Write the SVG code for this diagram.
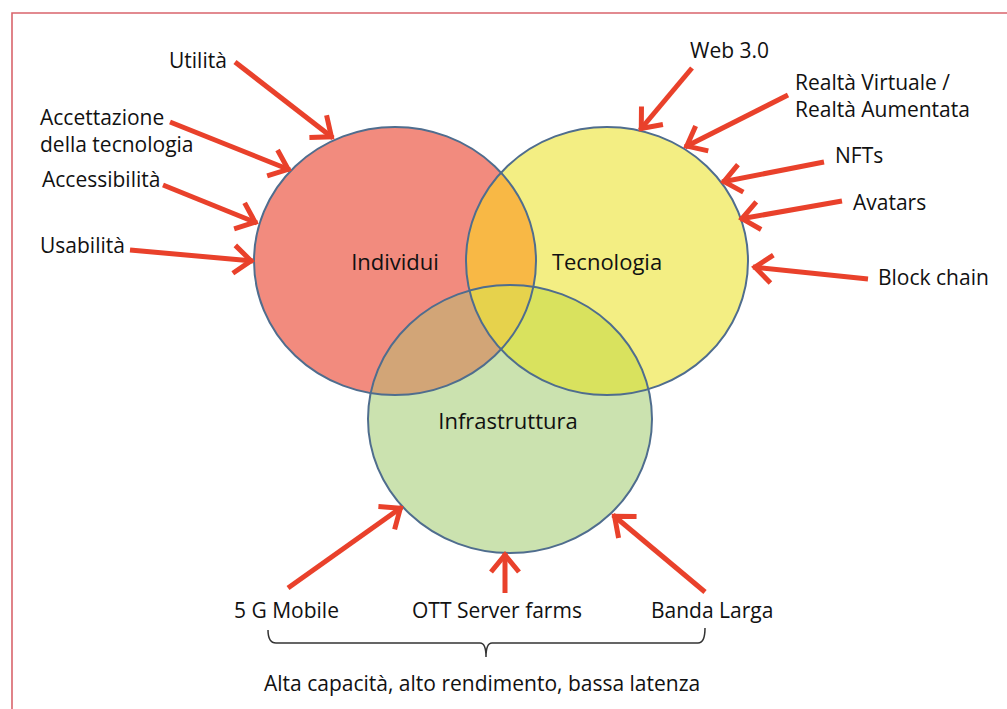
<svg xmlns="http://www.w3.org/2000/svg" width="1007" height="709" viewBox="0 0 1007 709">
<style>
.lbl{font-family:"Open Sans","Liberation Sans",sans-serif;font-size:21px;fill:#111}
.ctr{font-family:"Open Sans","Liberation Sans",sans-serif;font-size:22px;fill:#111;text-anchor:middle}
.arr{stroke:#E9412B;stroke-width:5;fill:none;marker-end:url(#head)}
.ring{fill:none;stroke:#4F6D8E;stroke-width:2}
</style>
<defs>
<marker id="head" markerUnits="userSpaceOnUse" viewBox="-30 -20 40 40" markerWidth="40" markerHeight="40" refX="0" refY="0" orient="auto">
<path d="M -19 -14 L -2 0 L -19 14" fill="none" stroke="#E9412B" stroke-width="5"/>
</marker>
<clipPath id="cR"><ellipse cx="395" cy="261" rx="141" ry="134"/></clipPath>
<clipPath id="cY"><ellipse cx="607" cy="261" rx="141" ry="134"/></clipPath>
</defs>
<rect width="1007" height="709" fill="#fff"/>
<path d="M 12 720 L 12 13 L 1010 13" fill="none" stroke="#D9646C" stroke-width="1.6"/>

<g id="venn">
<ellipse cx="395" cy="261" rx="141" ry="134" fill="#F28B7E"/>
<ellipse cx="607" cy="261" rx="141" ry="134" fill="#F3EE83"/>
<ellipse cx="510" cy="419" rx="142" ry="134" fill="#CBE2AF"/>
<ellipse cx="607" cy="261" rx="141" ry="134" fill="#F8B845" clip-path="url(#cR)"/>
<ellipse cx="510" cy="419" rx="142" ry="134" fill="#D2A577" clip-path="url(#cR)"/>
<ellipse cx="510" cy="419" rx="142" ry="134" fill="#D9E25E" clip-path="url(#cY)"/>
<g clip-path="url(#cR)"><ellipse cx="510" cy="419" rx="142" ry="134" fill="#E6D24C" clip-path="url(#cY)"/></g>
</g>
<g id="individui">
<ellipse class="ring" cx="395" cy="261" rx="141" ry="134"/>
<text class="ctr" x="395" y="270">Individui</text>
</g>
<g id="tecnologia">
<ellipse class="ring" cx="607" cy="261" rx="141" ry="134"/>
<text class="ctr" x="607" y="270">Tecnologia</text>
</g>
<g id="infrastruttura">
<ellipse class="ring" cx="510" cy="419" rx="142" ry="134"/>
<text class="ctr" x="508" y="429">Infrastruttura</text>
</g>

<g id="connectors">
<path class="arr" d="M 235 62 L 333 138"/>
<path class="arr" d="M 170 122 L 290 170"/>
<path class="arr" d="M 163 185 L 257 223"/>
<path class="arr" d="M 130 250 L 253 261"/>
<path class="arr" d="M 692 68 L 640 130"/>
<path class="arr" d="M 788 95 L 685 147"/>
<path class="arr" d="M 824 162 L 722 182"/>
<path class="arr" d="M 842 201 L 740 219"/>
<path class="arr" d="M 868 279 L 753 267"/>
<path class="arr" d="M 288 588 L 402 507"/>
<path class="arr" d="M 505 593 L 505 553"/>
<path class="arr" d="M 705 592 L 613 515"/>
<path d="M 268 630 Q 268 643 276 643 L 480 643 Q 486 643 486 657 Q 486 643 492 643 L 698 643 Q 705 643 705 628" fill="none" stroke="#333" stroke-width="1.5"/>
</g>

<g id="labels">
<text class="lbl" x="169" y="68">Utilità</text>
<text class="lbl" x="40" y="125">Accettazione</text>
<text class="lbl" x="40" y="152">della tecnologia</text>
<text class="lbl" x="42" y="187">Accessibilità</text>
<text class="lbl" x="40" y="253">Usabilità</text>
<text class="lbl" x="690" y="58">Web 3.0</text>
<text class="lbl" x="795" y="90">Realtà Virtuale /</text>
<text class="lbl" x="795" y="117">Realtà Aumentata</text>
<text class="lbl" x="835" y="163">NFTs</text>
<text class="lbl" x="853" y="210">Avatars</text>
<text class="lbl" x="878" y="285">Block chain</text>
<text class="lbl" x="234" y="618">5 G Mobile</text>
<text class="lbl" x="412" y="618">OTT Server farms</text>
<text class="lbl" x="651" y="618">Banda Larga</text>
<text class="lbl" x="264" y="691">Alta capacità, alto rendimento, bassa latenza</text>
</g>
</svg>
